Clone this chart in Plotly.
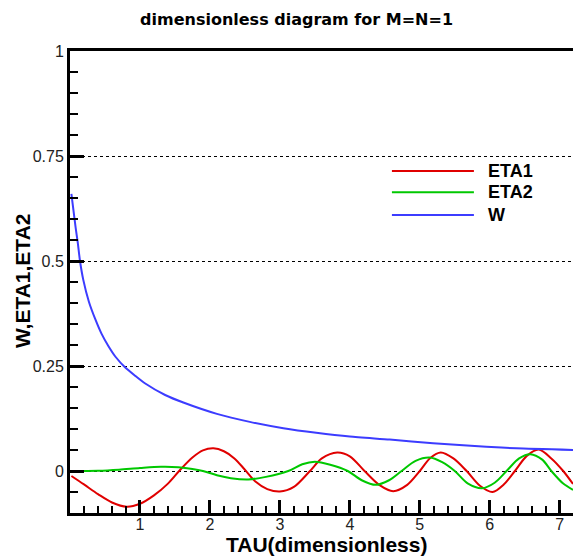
import plotly.graph_objects as go

# ---- data ----
series_names = ["ETA1", "ETA2", "W"]
series_colors = ["#e00000", "#00c800", "#3c3cff"]

eta1_tau = [0.02, 0.2, 0.4, 0.6, 0.81, 1.0, 1.2, 1.4, 1.56, 1.75, 1.9, 2.05, 2.2, 2.35, 2.5,
            2.65, 2.82, 3.0, 3.2, 3.43, 3.6, 3.82, 4.0, 4.21, 4.42, 4.62, 4.82, 5.0, 5.15,
            5.3, 5.48, 5.67, 5.86, 6.04, 6.2, 6.36, 6.53, 6.7, 6.88, 7.05, 7.19]
eta1_val = [-0.012, -0.032, -0.055, -0.075, -0.085, -0.078, -0.058, -0.030, 0.0, 0.032, 0.049,
            0.054, 0.047, 0.030, 0.003, -0.025, -0.043, -0.049, -0.038, 0.0, 0.030, 0.044,
            0.035, 0.0, -0.033, -0.048, -0.033, 0.0, 0.031, 0.044, 0.030, 0.0, -0.035,
            -0.050, -0.032, 0.0, 0.036, 0.051, 0.030, 0.0, -0.031]

eta2_tau = [0.0, 0.4, 0.7, 1.0, 1.3, 1.55, 1.75, 1.9, 2.1, 2.3, 2.55, 2.8, 3.12, 3.32, 3.5,
            3.72, 3.97, 4.17, 4.37, 4.56, 4.74, 4.94, 5.14, 5.32, 5.5, 5.69, 5.89, 6.07,
            6.24, 6.42, 6.58, 6.75, 6.88, 7.05, 7.19]
eta2_val = [0.0, 0.0005, 0.003, 0.007, 0.010, 0.009, 0.005, 0.0, -0.010, -0.017, -0.020,
            -0.014, 0.0, 0.016, 0.022, 0.015, 0.0, -0.022, -0.033, -0.022, 0.0, 0.024,
            0.032, 0.021, 0.0, -0.030, -0.041, -0.028, 0.0, 0.030, 0.040, 0.027, 0.0,
            -0.030, -0.045]

w_tau = [0.02, 0.05, 0.08, 0.11, 0.143, 0.19, 0.27, 0.36, 0.45, 0.55, 0.65, 0.786, 0.93,
         1.07, 1.36, 1.62, 2.1, 2.57, 3.05, 3.52, 4.0, 4.57, 5.19, 5.95, 6.38, 7.19]
w_val = [0.66, 0.62, 0.58, 0.545, 0.50, 0.455, 0.403, 0.362, 0.327, 0.297, 0.272, 0.247,
         0.227, 0.209, 0.181, 0.163, 0.136, 0.117, 0.102, 0.091, 0.082, 0.075, 0.066,
         0.058, 0.054, 0.050]

x_tickvals = [1, 2, 3, 4, 5, 6, 7]
x_ticktext = ["1", "2", "3", "4", "5", "6", "7"]
y_tickvals = [0, 0.25, 0.5, 0.75, 1]
y_ticktext = ["0", "0.25", "0.5", "0.75", "1"]

title_text = "dimensionless diagram for M=N=1"
x_title = "TAU(dimensionless)"
y_title = "W,ETA1,ETA2"

FONT = "Liberation Sans, Arial, sans-serif"
TITLE_FONT = "DejaVu Sans, sans-serif"

fig = go.Figure()
xs = [eta1_tau, eta2_tau, w_tau]
ys = [eta1_val, eta2_val, w_val]
for name, color, x, y in zip(series_names, series_colors, xs, ys):
    fig.add_trace(go.Scatter(
        x=x, y=y, name=name, mode="lines",
        line=dict(color=color, width=2, shape="spline",
                  smoothing=0.9 if name != "W" else 0.6),
        showlegend=False, hoverinfo="skip"))

# manual legend (long line samples as in the reference)
leg_x0, leg_x1, leg_tx = 0.640, 0.803, 0.827
leg_ys = [0.740, 0.694, 0.645]
for name, color, ly in zip(series_names, series_colors, leg_ys):
    fig.add_shape(type="line", xref="paper", yref="paper", x0=leg_x0, x1=leg_x1,
                  y0=ly, y1=ly, line=dict(color=color, width=2))
    fig.add_annotation(xref="paper", yref="paper", x=leg_tx, y=ly, text="<b>%s</b>" % name,
                       showarrow=False, xanchor="left", yanchor="middle",
                       font=dict(family=FONT, size=18, color="black"))

# axis titles
fig.add_annotation(xref="paper", yref="paper", x=0.509, y=-0.069, text="<b>%s</b>" % x_title,
                   showarrow=False, xanchor="center", yanchor="middle",
                   font=dict(family=FONT, size=21, color="black"))
fig.add_annotation(xref="paper", yref="paper", x=-0.0954, y=0.502, text="<b>%s</b>" % y_title,
                   showarrow=False, xanchor="center", yanchor="middle", textangle=-90,
                   font=dict(family=FONT, size=21, color="black"))

fig.update_layout(
    width=573, height=558,
    margin=dict(l=70, r=0, t=51, b=45),
    paper_bgcolor="white", plot_bgcolor="white",
    title=dict(text="<b>%s</b>" % title_text, x=0.5175, xanchor="center",
               y=1 - 19 / 558, yanchor="middle",
               font=dict(family=TITLE_FONT, size=16, color="black")),
    font=dict(family=FONT, size=16, color="#222222"),
)

fig.update_xaxes(
    range=[0, 7.19], showgrid=False, zeroline=False,
    showline=True, linecolor="black", linewidth=3, mirror=True,
    tickmode="array", tickvals=x_tickvals, ticktext=x_ticktext,
    ticks="inside", ticklen=13, tickwidth=3, tickcolor="black",
    ticklabelstandoff=-5,
    minor=dict(dtick=0.2, tick0=0, ticks="inside", ticklen=7, tickwidth=1.5,
               tickcolor="black", showgrid=False),
    tickfont=dict(family=FONT, size=16, color="#222222"),
)
fig.update_yaxes(
    range=[-0.1, 1], zeroline=False,
    showgrid=True, gridcolor="black", gridwidth=1, griddash="dot",
    showline=True, linecolor="black", linewidth=3,
    tickmode="array", tickvals=y_tickvals, ticktext=y_ticktext,
    ticks="inside", ticklen=14, tickwidth=3, tickcolor="black",
    minor=dict(dtick=0.05, tick0=0, ticks="inside", ticklen=8, tickwidth=1.5,
               tickcolor="black", showgrid=False),
    tickfont=dict(family=FONT, size=16, color="#222222"),
)

fig.write_html("out.html")
